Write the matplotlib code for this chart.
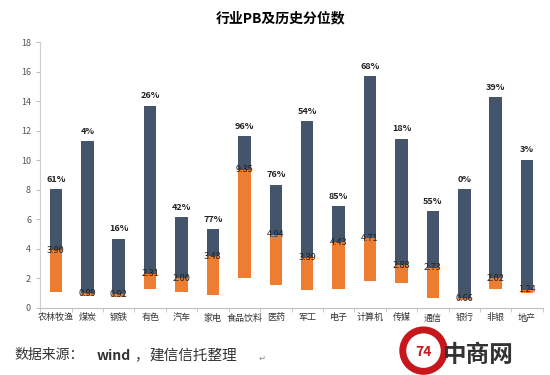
import numpy as np
import matplotlib.pyplot as plt
from matplotlib.patches import Circle

plt.rcParams['font.family'] = ['Noto Sans CJK SC', 'DejaVu Sans']

cats = ['农林牧渔', '煤炭', '钢铁', '有色', '汽车', '家电', '食品饮料', '医药',
        '军工', '电子', '计算机', '传媒', '通信', '银行', '非银', '地产']
low = [1.08, 0.79, 0.75, 1.31, 1.08, 0.90, 2.01, 1.58,
       1.18, 1.31, 1.80, 1.67, 0.66, 0.52, 1.31, 1.01]
cur = [3.90, 0.99, 0.92, 2.31, 2.00, 3.48, 9.35, 4.94,
       3.39, 4.43, 4.71, 2.88, 2.73, 0.66, 2.02, 1.24]
high = [8.05, 11.30, 4.69, 13.69, 6.14, 5.32, 11.62, 8.35,
        12.65, 6.90, 15.72, 11.46, 6.56, 8.05, 14.26, 10.04]
pct = ['61%', '4%', '16%', '26%', '42%', '77%', '96%', '76%',
       '54%', '85%', '68%', '18%', '55%', '0%', '39%', '3%']

low = np.array(low)
cur = np.array(cur)
high = np.array(high)
x = np.arange(len(cats))

fig = plt.figure(figsize=(5.5, 3.75), dpi=100)
ax = fig.add_axes([0.073, 0.179, 0.914, 0.709])

ax.bar(x, cur - low, 0.4, bottom=low, color='#ED7D31', zorder=2)
ax.bar(x, high - cur, 0.4, bottom=cur, color='#44546A', zorder=2)

for i in range(len(cats)):
    ax.text(x[i], high[i] + 0.35, pct[i], ha='center', va='bottom', fontsize=6.5,
            color='#222222', fontweight='bold')
    ax.text(x[i], cur[i], '%.2f' % cur[i], ha='center', va='center', fontsize=6.5,
            color='#222222', zorder=3)

ax.set_xlim(-0.5, len(cats) - 0.5)
ax.set_ylim(0, 18)
ax.set_yticks(np.arange(0, 19, 2))
ax.set_xticks(x)
ax.set_xticklabels(cats)
ax.set_xticks(np.arange(-0.5, len(cats), 1), minor=True)
ax.tick_params(axis='x', which='major', length=0, labelsize=6.5, colors='#333333', pad=4)
ax.tick_params(axis='x', which='minor', length=3, color='#BFBFBF')
ax.tick_params(axis='y', length=3, color='#BFBFBF', labelsize=6.5, labelcolor='#555555')
for s in ['top', 'right']:
    ax.spines[s].set_visible(False)
ax.spines['left'].set_color('#D0D0D0')
ax.spines['bottom'].set_color('#BFBFBF')

fig.text(0.51, 0.952, '行业PB及历史分位数', ha='center', va='center', fontsize=10, fontweight='bold')

# source line
fig.text(0.027, 0.052, '数据来源：', ha='left', va='center', fontsize=10, color='#333333')
fig.text(0.176, 0.052, 'wind', ha='left', va='center', fontsize=10, fontweight='bold', color='#333333')
fig.text(0.243, 0.052, '，', ha='left', va='center', fontsize=10, color='#333333')
fig.text(0.272, 0.052, '建信信托整理', ha='left', va='center', fontsize=10.5, color='#333333')
fig.text(0.47, 0.045, '↵', ha='left', va='center', fontsize=6, color='#888888')

# watermark logo
logo = fig.add_axes([0.725, 0.0, 0.09, 0.13])
logo.set_xlim(-1, 1)
logo.set_ylim(-1, 1)
logo.set_aspect('equal')
logo.axis('off')
logo.add_patch(Circle((0, 0), 0.85, fill=False, lw=5, color='#C8161D'))
logo.text(0, -0.05, '74', ha='center', va='center', fontsize=10, fontweight='bold', color='#C8161D')
fig.text(0.805, 0.052, '中商网', ha='left', va='center', fontsize=17, fontweight='bold', color='#333333')

fig.savefig('out.png', dpi=100)
